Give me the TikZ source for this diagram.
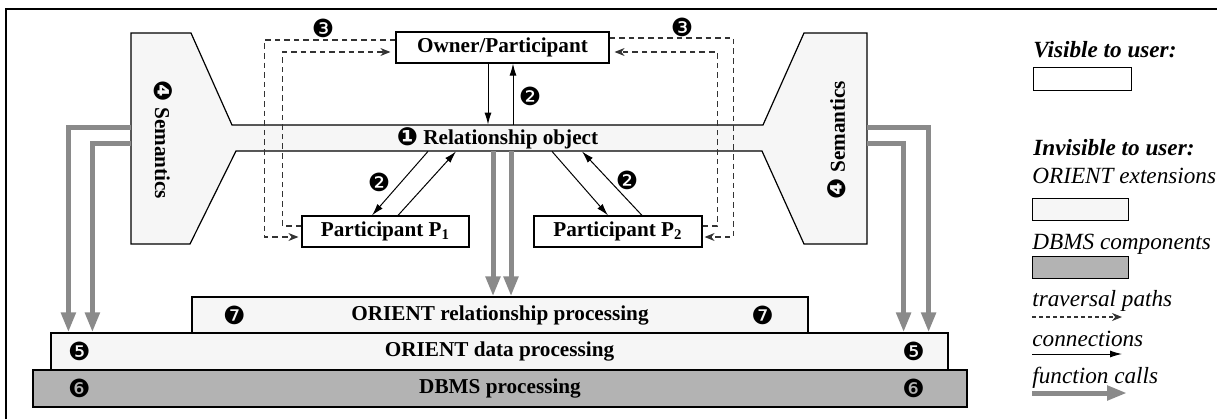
\documentclass[tikz,border=0pt]{standalone}
\usepackage{fontspec}
\setmainfont{Liberation Serif}
\newfontfamily\dingfont{DejaVu Sans}
\usetikzlibrary{arrows.meta,positioning,calc}
\definecolor{extfill}{HTML}{F6F6F6}
\definecolor{dbmsfill}{HTML}{B3B3B3}
\definecolor{callgray}{HTML}{8A8A8A}
\newcommand{\boxfont}{\fontsize{10.6}{12}\selectfont\bfseries}
\newcommand{\ding}{\dingfont\fontsize{12.5}{13}\selectfont}
\tikzset{
  Ubox/.style={draw, fill=white, font=\boxfont, inner sep=0pt, line width=0.6pt},
  Obox/.style={draw, fill=extfill, font=\boxfont, inner sep=0pt, line width=0.6pt},
  Dbox/.style={draw, fill=dbmsfill, font=\boxfont, inner sep=0pt, line width=0.6pt},
  Num/.style={font=\ding, inner sep=0pt},
  Carr/.style={-{Latex[length=6pt,width=3.5pt]}, line width=0.5pt},
  Tarr/.style={-{Stealth[length=5pt,width=4pt]}, dash pattern=on 2.8pt off 2pt,
               line width=0.55pt, black!80},
  Farr/.style={-{Triangle[length=10pt,width=7pt]}, line width=2.5pt, callgray},
  Ltext/.style={anchor=base west, inner sep=0pt, font=\fontsize{11.6}{13}\selectfont\itshape},
  Lbox/.style={draw, anchor=north west, inner sep=0pt, line width=0.6pt,
               minimum width=48pt, minimum height=11pt}
}

\begin{document}
\begin{tikzpicture}[x=0.5pt, y=-0.5pt]
  \useasboundingbox (0,0) rectangle (1217,419);
  \draw[line width=0.6pt] (6,419) -- (6,9) -- (1217,9);

  % relationship object with the two semantics blocks
  \draw[fill=extfill, line width=0.6pt]
    (131,33) -- (191,33) -- (232,125) -- (763,125) -- (804,33) -- (867,33)
    -- (867,244) -- (804,244) -- (762,151) -- (236,151) -- (190,244)
    -- (131,244) -- cycle;
  \node[inner sep=0pt, minimum width=265.5pt, minimum height=13pt, font=\boxfont]
    (rel) at (497.5,138) {{\ding\raisebox{-0.5pt}{❶}} Relationship object};
  \node[rotate=-90, inner sep=0pt, font=\boxfont] (semL) at (163,140)
    {{\ding\raisebox{-0.5pt}{❹}} Semantics};
  \node[rotate=90, inner sep=0pt, font=\boxfont] (semR) at (837,140)
    {{\ding\raisebox{-0.5pt}{❹}} Semantics};
  \coordinate (fl1) at (131,127);
  \coordinate (fl2) at (131,143);
  \coordinate (fr1) at (867,127);
  \coordinate (fr2) at (867,143);

  \node[Ubox, minimum width=106.5pt, minimum height=15.5pt] (owner) at (502.5,47.5)
    {Owner/Participant};
  \node[Ubox, minimum width=83.5pt, minimum height=15.5pt] (p1) at (385.5,231.5)
    {Participant P\textsubscript{1}};
  \node[Ubox, minimum width=84pt, minimum height=15.5pt] (p2) at (618,231.5)
    {Participant P\textsubscript{2}};

  \node[Obox, minimum width=308pt, minimum height=18pt] (orel) at (500,315)
    {ORIENT relationship processing};
  \node[Obox, minimum width=448.5pt, minimum height=18.5pt] (odata) at (499.5,351.5)
    {ORIENT data processing};
  \node[Dbox, minimum width=467pt, minimum height=18.5pt] (dbms) at (500,388.5)
    {DBMS processing};

  \node[Num] (n7a) at ($(orel.west)+(43,0)$) {❼};
  \node[Num] (n7b) at ($(orel.east)+(-46,0)$) {❼};
  \node[Num] (n5a) at ($(odata.west)+(29,0)$) {❺};
  \node[Num] (n5b) at ($(odata.east)+(-35,0)$) {❺};
  \node[Num] (n6a) at ($(dbms.west)+(47,0)$) {❻};
  \node[Num] (n6b) at ($(dbms.east)+(-54,0)$) {❻};

  \draw[Carr] ($(owner.south)+(-14.5,0)$) -- ($(rel.north)+(-9.5,0)$);
  \draw[Carr] ($(rel.north)+(15.5,0)$) -- ($(owner.south)+(10.5,0)$);
  \draw[Carr] ($(rel.south)+(-69.5,0)$) -- ($(p1.north)+(-13.5,0)$);
  \draw[Carr] ($(p1.north)+(12.5,0)$) -- ($(rel.south)+(-41.5,0)$);
  \draw[Carr] ($(rel.south)+(54.5,0)$) -- ($(p2.north)+(-10,0)$);
  \draw[Carr] ($(p2.north)+(24,0)$) -- ($(rel.south)+(84.5,0)$);
  \node[Num] (n2a) at (530,96) {❷};
  \node[Num] (n2b) at (379,182) {❷};
  \node[Num] (n2c) at (627,180) {❷};

  \draw[Tarr] ($(owner.west)+(0,-7.5)$) -| ($(p1.west)+(-37,5.5)$) -- ($(p1.west)+(-3,5.5)$);
  \draw[Tarr] ($(p1.west)+(0,-5.5)$) -- ($(p1.west)+(-19,-5.5)$) |- ($(owner.west)+(-5,4.5)$);
  \draw[Tarr] ($(owner.east)+(0,-9.5)$) -| ($(p2.east)+(31,5.5)$) -- ($(p2.east)+(2,5.5)$);
  \draw[Tarr] ($(p2.east)+(0,-5.5)$) -- ($(p2.east)+(15,-5.5)$) |- ($(owner.east)+(5,4.5)$);
  \node[Num] (n3a) at (323,28) {❸};
  \node[Num] (n3b) at (682,27) {❸};

  \draw[Farr] (fl1) -| ($(odata.north west)+(18,0)$);
  \draw[Farr] (fl2) -| ($(odata.north west)+(42,0)$);
  \draw[Farr] (fr1) -| ($(odata.north east)+(-20,0)$);
  \draw[Farr] (fr2) -| ($(odata.north east)+(-45,0)$);
  \draw[Farr] ($(rel.south)+(-4.5,0)$) -- ($(orel.north)+(-7,0)$);
  \draw[Farr] ($(rel.south)+(13.5,0)$) -- ($(orel.north)+(11,0)$);

  % legend
  \node[Ltext, font=\fontsize{11.6}{13}\selectfont\bfseries\itshape] (visible) at (1033,57)
    {Visible to user:};
  \node[Lbox, fill=white, minimum width=49pt, minimum height=11.5pt] (visbox) at (1033,67) {};
  \node[Ltext, font=\fontsize{11.6}{13}\selectfont\bfseries\itshape] (invisible) at (1033,155)
    {Invisible to user:};
  \node[Ltext] (extlabel) at (1032,183) {ORIENT extensions};
  \node[Lbox, fill=extfill] (extbox) at (1032,198) {};
  \node[Ltext] (dbmslabel) at (1032,249) {DBMS components};
  \node[Lbox, fill=dbmsfill] (dbmsbox) at (1032,256) {};
  \node[Ltext] (travlabel) at (1032,306) {traversal paths};
  \draw[Tarr, dash pattern=on 2pt off 1.5pt] ($(travlabel.base west)+(0,11)$) -- ++(90,0);
  \node[Ltext] (connlabel) at (1032,346) {connections};
  \draw[Carr] ($(connlabel.base west)+(0,8)$) -- ++(90,0);
  \node[Ltext] (calllabel) at (1032,383) {function calls};
  \draw[Farr] ($(calllabel.base west)+(0,10)$) -- ++(95,0);
\end{tikzpicture}
\end{document}
